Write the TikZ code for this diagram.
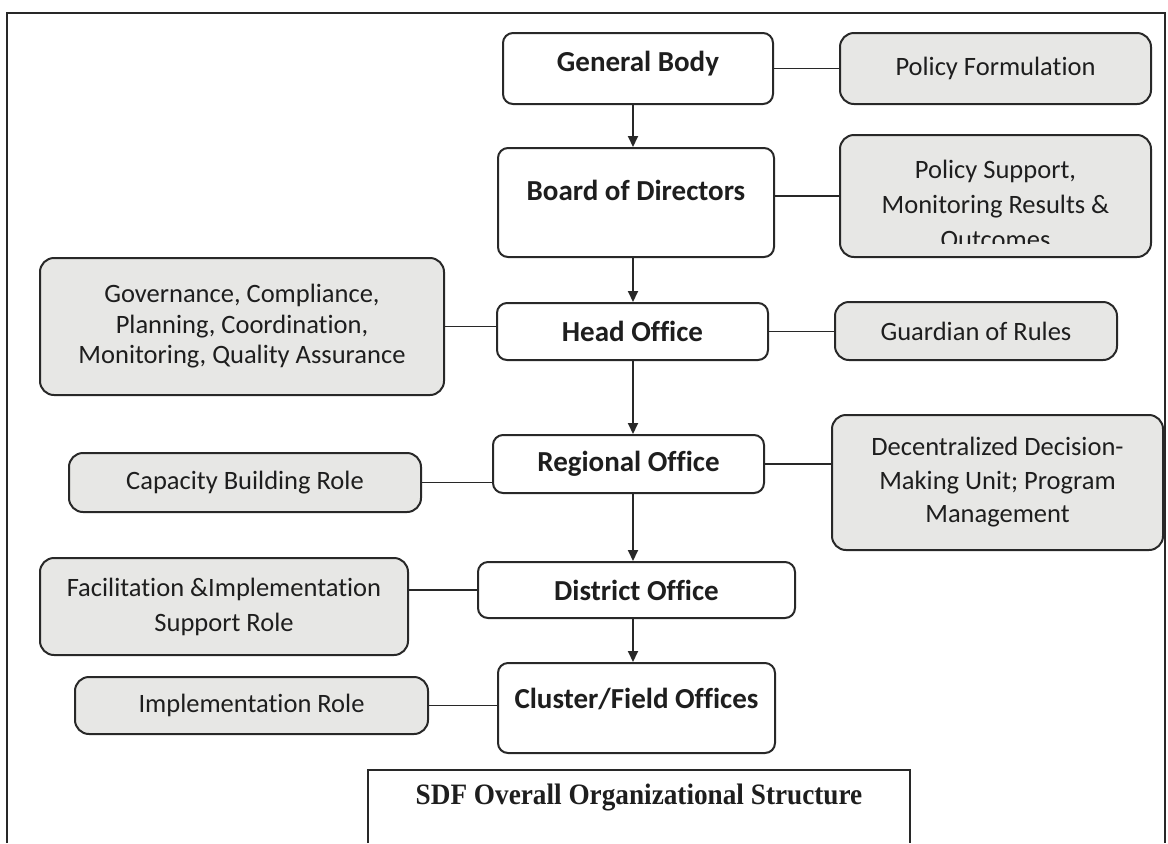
\documentclass[tikz,border=0pt]{standalone}
\usepackage{fontspec}
\setmainfont{Carlito}[Ligatures=NoCommon]
\newfontfamily\titlefont{Liberation Serif}
\usetikzlibrary{arrows.meta}
\definecolor{boxline}{RGB}{40,40,40}
\definecolor{rolefill}{RGB}{231,231,229}
\definecolor{inktext}{RGB}{30,30,30}

\begin{document}
\begin{tikzpicture}[x=0.5pt, y=-0.5pt, >={Triangle[length=5.5pt, width=5pt]},
    office/.style={draw=boxline, line width=1pt, fill=white, rounded corners=5pt, align=center, text=inktext, font=\fontsize{14.5}{17}\selectfont\bfseries},
    role/.style={draw=boxline, line width=1pt, fill=rolefill, rounded corners=7pt, align=center, text=inktext, font=\fontsize{13.25}{16.5}\selectfont},
    link/.style={boxline, line width=0.9pt}]
      \useasboundingbox (0,0) rectangle (1168,843);
      % page frame
      \draw[boxline, line width=1pt] (7,843) -- (7,13) -- (1165,13) -- (1165,843);
      % offices
      \node[office, minimum width=135pt, minimum height=35.5pt, text depth=7.5pt] (gb) at (638,68.5) {General Body};
      \node[office, minimum width=138pt, minimum height=54.5pt, text depth=12.5pt] (bod) at (636,202.5) {Board of Directors};
      \node[office, minimum width=135.5pt, minimum height=28.5pt] (ho) at (632.5,331.5) {Head Office};
      \node[office, minimum width=135.5pt, minimum height=29pt] (ro) at (628.5,464) {Regional Office};
      \node[office, minimum width=158.5pt, minimum height=28pt] (dofc) at (636.5,590) {District Office};
      \node[office, minimum width=138.5pt, minimum height=45pt, text depth=10pt] (cfo) at (636.5,708) {Cluster/Field Offices};
      % roles
      \node[role, minimum width=155.5pt, minimum height=35.5pt] (pf) at (995.5,68.5) {Policy Formulation};
      \node[role, minimum width=155.5pt, minimum height=61pt] (ps) at (995.5,196) {};
      \begin{scope}
        \clip (ps.north west) rectangle ([yshift=7.5pt]ps.south east);
        \node[role, draw=none, fill=none, font=\fontsize{13.25}{17.5}\selectfont] (pstext) at ([yshift=-4pt]ps.center) {Policy Support,\\Monitoring Results \&\\Outcomes};
      \end{scope}
      \node[role, minimum width=202pt, minimum height=68.5pt, font=\fontsize{13.25}{15.25}\selectfont] (gov) at (242,326.5) {Governance, Compliance,\\Planning, Coordination,\\Monitoring, Quality Assurance};
      \node[role, minimum width=141pt, minimum height=29pt] (gr) at (976,331) {Guardian of Rules};
      \node[role, minimum width=176pt, minimum height=29.5pt] (cbr) at (245,482.5) {Capacity Building Role};
      \node[role, minimum width=165.5pt, minimum height=67.5pt, font=\fontsize{13.25}{16.75}\selectfont] (dec) at (997.5,482.5) {Decentralized Decision-\\Making Unit; Program\\Management};
      \node[role, minimum width=184pt, minimum height=48.5pt, font=\fontsize{13.25}{17.5}\selectfont] (fac) at (224,606.5) {Facilitation \&Implementation\\Support Role};
      \node[role, minimum width=176.5pt, minimum height=28.5pt] (impl) at (251.5,705.5) {Implementation Role};
      % chain of command
      \coordinate (spine) at (633,0);
      \draw[->, link] (gb.south -| spine) -- (bod.north -| spine);
      \draw[->, link] (bod.south -| spine) -- (ho.north -| spine);
      \draw[->, link] (ho.south -| spine) -- (ro.north -| spine);
      \draw[->, link] (ro.south -| spine) -- (dofc.north -| spine);
      \draw[->, link] (dofc.south -| spine) -- (cfo.north -| spine);
      % side links
      \draw[link] (gb.east) -- (gb.east -| pf.west);
      \draw[link] (ps.west) -- (ps.west -| bod.east);
      \draw[link] (gov.east) -- (gov.east -| ho.west);
      \draw[link] (ho.east) -- (ho.east -| gr.west);
      \draw[link] (cbr.east) -- (cbr.east -| ro.west);
      \draw[link] (ro.east) -- (ro.east -| dec.west);
      \draw[link] (dofc.west) -- (dofc.west -| fac.east);
      \draw[link] (impl.east) -- (impl.east -| cfo.west);
      % caption box
      \draw[boxline, line width=0.8pt] (368,843) -- (368,770) -- (910,770) -- (910,843);
      \node[text=inktext] (title) at (639,797) {\titlefont\bfseries\fontsize{14.8}{17}\selectfont\scalebox{0.92}[1]{SDF Overall Organizational Structure}};
    \end{tikzpicture}
\end{document}
